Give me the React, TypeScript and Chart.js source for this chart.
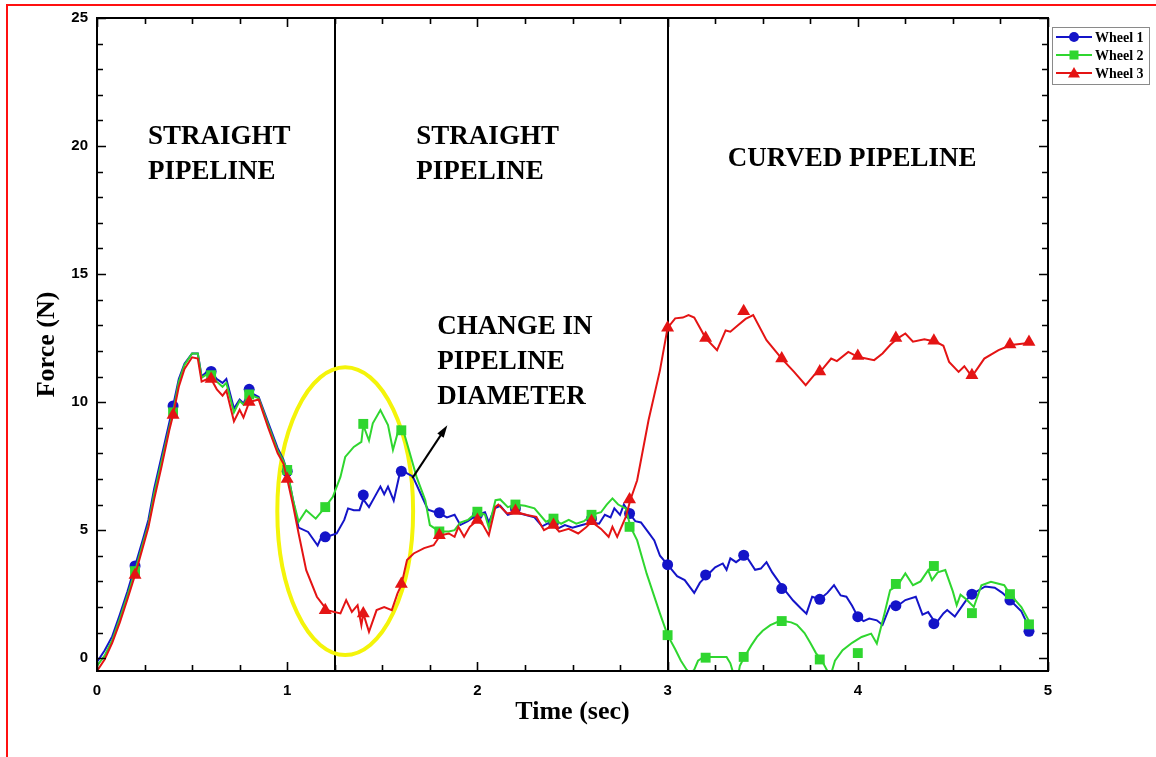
import React, { useEffect, useRef } from 'react';
import { Chart, registerables } from 'chart.js';

Chart.register(...registerables);

// Wheel 1 force trace (time in s, force in N)
const wheel1Time = [
  0.0, 0.04, 0.08, 0.12, 0.16, 0.2, 0.24, 0.27, 0.3, 0.34, 0.38, 0.4, 0.43, 0.46, 0.5, 0.53, 0.55, 0.58, 0.6,
  0.63, 0.66, 0.68, 0.72, 0.75, 0.77, 0.8, 0.85, 0.9, 0.95, 0.98, 1.0, 1.03, 1.06, 1.11, 1.16, 1.18, 1.21, 1.26,
  1.3, 1.32, 1.35, 1.38, 1.4, 1.43, 1.46, 1.49, 1.51, 1.53, 1.56, 1.59, 1.61, 1.66, 1.7, 1.74, 1.8, 1.84, 1.88,
  1.91, 1.95, 2.0, 2.04, 2.06, 2.09, 2.12, 2.16, 2.2, 2.25, 2.3, 2.34, 2.38, 2.42, 2.46, 2.5, 2.55, 2.6, 2.64,
  2.67, 2.7, 2.72, 2.75, 2.77, 2.8, 2.83, 2.86, 2.9, 2.93, 2.96, 3.0, 3.05, 3.09, 3.14, 3.17, 3.21, 3.25, 3.29,
  3.31, 3.33, 3.36, 3.41, 3.46, 3.49, 3.52, 3.55, 3.61, 3.66, 3.7, 3.73, 3.76, 3.8, 3.84, 3.875, 3.91, 3.94,
  3.97, 4.0, 4.03, 4.06, 4.1, 4.13, 4.17, 4.21, 4.25, 4.305, 4.34, 4.37, 4.41, 4.45, 4.47, 4.51, 4.57, 4.6,
  4.67, 4.72, 4.76, 4.8, 4.86, 4.91,
];
const wheel1Force = [
  -0.15, 0.3, 0.85, 1.7, 2.6, 3.6, 4.6, 5.4, 6.6, 7.9, 9.2, 9.85, 10.9, 11.5, 11.9, 11.9, 11.0, 11.2, 11.2,
  10.9, 10.75, 10.9, 9.75, 10.1, 9.95, 10.4, 10.2, 9.2, 8.2, 7.75, 7.3, 6.2, 5.1, 4.93, 4.4, 4.74, 4.74, 4.87,
  5.4, 5.85, 5.78, 5.78, 6.2, 5.9, 6.3, 6.7, 6.4, 6.7, 6.15, 7.15, 7.3, 7.1, 6.45, 5.8, 5.65, 5.5, 5.6,
  5.2, 5.35, 5.6, 5.7, 5.3, 5.85, 5.95, 5.6, 5.7, 5.6, 5.5, 5.15, 5.3, 5.05, 5.2, 5.1, 5.2, 5.3, 5.25,
  5.6, 5.5, 5.85, 5.6, 6.0, 5.65, 5.35, 5.3, 4.9, 4.6, 4.0, 3.65, 3.2, 3.05, 2.55, 2.95, 3.25, 3.55, 3.7,
  3.45, 3.9, 3.75, 4.02, 3.45, 3.5, 3.75, 3.35, 2.72, 2.25, 1.95, 1.74, 2.4, 2.3, 2.55, 2.85, 2.45, 2.4,
  2.05, 1.62, 1.45, 1.55, 1.48, 1.3, 2.05, 2.05, 2.27, 2.4, 1.7, 1.8, 1.35, 1.75, 1.88, 1.63, 2.27, 2.5,
  2.8, 2.75, 2.55, 2.27, 1.83, 1.05,
];

// Wheel 2 force trace
const wheel2Time = [
  0.0, 0.04, 0.08, 0.12, 0.16, 0.2, 0.24, 0.27, 0.3, 0.34, 0.38, 0.4, 0.43, 0.46, 0.5, 0.53, 0.55, 0.58, 0.6,
  0.63, 0.66, 0.68, 0.72, 0.75, 0.77, 0.8, 0.85, 0.9, 0.95, 0.98, 1.0, 1.03, 1.06, 1.1, 1.15, 1.2, 1.24, 1.28,
  1.305, 1.35, 1.39, 1.4, 1.43, 1.45, 1.49, 1.53, 1.556, 1.59, 1.61, 1.64, 1.68, 1.726, 1.75, 1.8, 1.85, 1.88,
  1.91, 1.95, 2.0, 2.04, 2.06, 2.095, 2.12, 2.16, 2.2, 2.25, 2.3, 2.36, 2.4, 2.44, 2.48, 2.52, 2.56, 2.6, 2.65,
  2.68, 2.71, 2.74, 2.78, 2.805, 2.84, 2.89, 2.96, 3.0, 3.04, 3.07, 3.1, 3.12, 3.14, 3.16, 3.19, 3.21, 3.31,
  3.33, 3.35, 3.37, 3.38, 3.4, 3.44, 3.47, 3.5, 3.54, 3.58, 3.61, 3.65, 3.68, 3.72, 3.75, 3.78, 3.81, 3.84,
  3.86, 3.88, 3.92, 3.97, 4.02, 4.07, 4.1, 4.14, 4.17, 4.21, 4.25, 4.29, 4.33, 4.37, 4.39, 4.42, 4.46, 4.5,
  4.52, 4.54, 4.57, 4.61, 4.65, 4.7, 4.77, 4.8, 4.86, 4.91,
];
const wheel2Force = [
  -0.3, 0.1, 0.7, 1.55, 2.45, 3.4, 4.45, 5.2, 6.4, 7.7, 9.0, 9.6, 10.8, 11.45, 11.9, 11.9, 10.95, 11.1, 11.05,
  10.8, 10.6, 10.75, 9.6, 10.05, 9.9, 10.3, 10.15, 9.1, 8.1, 7.7, 7.35, 6.2, 5.33, 5.78, 5.45, 5.9, 6.3, 7.08,
  7.86, 8.25, 8.45, 9.1, 8.5, 9.17, 9.69, 9.1, 8.13, 9.04, 8.9, 8.13, 7.08, 6.17, 5.2, 4.95, 4.95, 5.0,
  5.3, 5.4, 5.72, 5.6, 5.1, 6.17, 6.2, 5.9, 6.0, 5.95, 5.85, 5.33, 5.45, 5.25, 5.4, 5.25, 5.35, 5.6, 5.7,
  6.0, 6.24, 6.0, 5.85, 5.13, 4.6, 3.3, 1.74, 0.9, 0.35, -0.1, -0.45, -0.6, -0.45, -0.1, 0.05, 0.05, 0.05,
  -0.2, -0.7, -0.7, -0.3, 0.0, 0.5, 0.83, 1.07, 1.29, 1.42, 1.45, 1.4, 1.3, 0.98, 0.6, 0.2, -0.08, -0.5,
  -0.6, -0.1, 0.31, 0.6, 0.83, 0.96, 0.57, 1.74, 2.66, 2.85, 3.31, 2.85, 3.0, 3.44, 3.05, 3.35, 3.44, 2.6,
  2.07, 2.48, 2.3, 2.0, 2.85, 2.98, 2.85, 2.5, 2.0, 1.32,
];

// Wheel 3 force trace
const wheel3Time = [
  0.0, 0.04, 0.08, 0.12, 0.16, 0.2, 0.24, 0.27, 0.3, 0.34, 0.38, 0.4, 0.43, 0.46, 0.5, 0.53, 0.55, 0.58, 0.6,
  0.63, 0.66, 0.68, 0.72, 0.75, 0.77, 0.8, 0.85, 0.9, 0.95, 0.98, 1.0, 1.03, 1.06, 1.1, 1.156, 1.21, 1.28,
  1.31, 1.34, 1.37, 1.39, 1.4, 1.43, 1.47, 1.51, 1.55, 1.58, 1.6, 1.63, 1.665, 1.72, 1.77, 1.805, 1.85, 1.88,
  1.9, 1.93, 1.96, 2.0, 2.03, 2.06, 2.095, 2.11, 2.156, 2.2, 2.26, 2.31, 2.35, 2.4, 2.43, 2.48, 2.53, 2.57,
  2.6, 2.65, 2.69, 2.71, 2.735, 2.78, 2.805, 2.84, 2.9, 2.96, 3.0, 3.04, 3.08, 3.11, 3.14, 3.2, 3.26, 3.305,
  3.33, 3.37, 3.41, 3.45, 3.52, 3.6, 3.665, 3.726, 3.77, 3.81, 3.86, 3.89, 3.95, 4.0, 4.086, 4.13, 4.17, 4.21,
  4.25, 4.29, 4.35, 4.41, 4.45, 4.48, 4.53, 4.56, 4.6, 4.665, 4.74, 4.805, 4.91,
];
const wheel3Force = [
  -0.5, -0.05, 0.6, 1.4, 2.3, 3.25, 4.3, 5.1, 6.2, 7.5, 8.9, 9.5, 10.6, 11.3, 11.75, 11.7, 10.8, 10.9, 10.9,
  10.5, 10.25, 10.45, 9.25, 9.7, 9.4, 10.0, 10.1, 9.0, 8.0, 7.6, 7.0, 6.0, 4.87, 3.44, 2.4, 1.87, 1.75,
  2.27, 1.81, 2.07, 1.29, 1.75, 1.03, 1.88, 2.0, 1.88, 2.53, 2.85, 3.83, 4.09, 4.3, 4.41, 4.8, 4.87, 4.74,
  5.13, 4.74, 5.13, 5.39, 5.2, 4.8, 5.91, 6.0, 5.65, 5.72, 5.59, 5.52, 5.0, 5.2, 4.94, 5.05, 4.87, 5.1,
  5.33, 5.05, 4.74, 5.13, 4.74, 5.52, 6.2, 6.95, 9.3, 11.25, 12.9, 13.27, 13.3, 13.4, 13.3, 12.5, 12.03, 12.8,
  12.75, 13.0, 13.25, 13.4, 12.42, 11.7, 11.18, 10.66, 11.05, 11.25, 11.7, 11.6, 11.96, 11.77, 11.64, 11.9, 12.23, 12.49,
  12.68, 12.36, 12.45, 12.36, 12.2, 11.57, 11.18, 11.4, 11.0, 11.7, 12.03, 12.23, 12.32,
];

// Sampled symbol positions shared by the three wheels
const markerTime = [
  0.2, 0.4, 0.6, 0.8, 1.0, 1.2, 1.4, 1.6, 1.8, 2.0, 2.2, 2.4, 2.6, 2.8, 3.0, 3.2, 3.4, 3.6, 3.8, 4.0, 4.2, 4.4,
  4.6, 4.8, 4.9,
];
const wheel1Markers = [
  3.6, 9.85, 11.2, 10.5, 7.3, 4.74, 6.37, 7.3, 5.68, 5.6, 5.85, 5.3, 5.45, 5.65, 3.65, 3.25, 4.02, 2.72, 2.3,
  1.62, 2.05, 1.35, 2.5, 2.27, 1.05,
];
const wheel2Markers = [
  3.4, 9.6, 11.05, 10.3, 7.35, 5.9, 9.15, 8.9, 4.95, 5.72, 6.0, 5.45, 5.6, 5.13, 0.9, 0.02, 0.05, 1.45, -0.05,
  0.2, 2.9, 3.6, 1.76, 2.5, 1.32,
];
const wheel3Markers = [
  3.25, 9.5, 10.9, 10.0, 7.0, 1.87, 1.75, 2.9, 4.8, 5.4, 5.75, 5.2, 5.35, 6.2, 12.9, 12.5, 13.55, 11.7, 11.2,
  11.8, 12.5, 12.4, 11.05, 12.25, 12.35,
];

const seriesNames = ['Wheel 1', 'Wheel 2', 'Wheel 3'];
const seriesColors = ['#1414c8', '#2fd62f', '#e41414'];
const seriesSymbols = ['circle', 'rect', 'triangle'];
const symbolRadius = [5.5, 7, 7.5];

const xTickValues = [0, 1, 2, 3, 4, 5];
const yTickValues = [0, 5, 10, 15, 20, 25];
const sectionBoundaries = [1.25, 3.0];

const regionLabels = [
  { lines: ['STRAIGHT', 'PIPELINE'], t: 0.268, f: 20.08 },
  { lines: ['STRAIGHT', 'PIPELINE'], t: 1.679, f: 20.08 },
  { lines: ['CURVED PIPELINE'], t: 3.316, f: 19.22 },
  { lines: ['CHANGE IN', 'PIPELINE', 'DIAMETER'], t: 1.789, f: 12.66 },
];
// Pointer from the highlighted zone to its caption
const arrowFrom = { t: 1.658, f: 7.03 };
const arrowTo = { t: 1.842, f: 9.1 };
// Highlighted zone around the diameter change
const zoneCenter = { t: 1.305, f: 5.74 };
const zoneRadius = { t: 0.357, f: 5.62 };

const pts = (ts: number[], fs: number[]) => ts.map((t, i) => ({ x: t, y: fs[i] }));

const serif = '"Liberation Serif", "Times New Roman", serif';
const sans = '"Liberation Sans", Arial, sans-serif';

const decorPlugin = {
  id: 'decor',
  beforeDatasetsDraw(chart: any) {
    const { ctx, chartArea: a, scales } = chart;
    const x = scales.x;
    const y = scales.y;
    ctx.save();
    ctx.strokeStyle = '#000';
    ctx.lineWidth = 2;
    sectionBoundaries.forEach((t) => {
      const px = Math.round(x.getPixelForValue(t));
      ctx.beginPath();
      ctx.moveTo(px, a.top);
      ctx.lineTo(px, a.bottom);
      ctx.stroke();
    });
    const cx = x.getPixelForValue(zoneCenter.t);
    const cy = y.getPixelForValue(zoneCenter.f);
    const rx = x.getPixelForValue(zoneCenter.t + zoneRadius.t) - cx;
    const ry = cy - y.getPixelForValue(zoneCenter.f + zoneRadius.f);
    ctx.strokeStyle = '#f4f40a';
    ctx.lineWidth = 4;
    ctx.beginPath();
    ctx.ellipse(cx, cy, rx, ry, 0, 0, Math.PI * 2);
    ctx.stroke();
    ctx.restore();
  },
  afterDatasetsDraw(chart: any) {
    const { ctx, chartArea: a, scales } = chart;
    const x = scales.x;
    const y = scales.y;
    ctx.save();

    // frame
    ctx.strokeStyle = '#000';
    ctx.lineWidth = 2;
    ctx.strokeRect(a.left, a.top, a.right - a.left, a.bottom - a.top);

    // inward ticks on all four sides
    ctx.lineWidth = 1.6;
    ctx.beginPath();
    for (let i = 0; i <= 20; i++) {
      const t = i * 0.25;
      const px = Math.round(x.getPixelForValue(t)) + 0.5;
      const len = i % 4 === 0 ? 9 : 6;
      ctx.moveTo(px, a.bottom);
      ctx.lineTo(px, a.bottom - len);
      ctx.moveTo(px, a.top);
      ctx.lineTo(px, a.top + len);
    }
    for (let v = 0; v <= 25; v++) {
      const py = Math.round(y.getPixelForValue(v)) + 0.5;
      const len = v % 5 === 0 ? 9 : 6;
      ctx.moveTo(a.left, py);
      ctx.lineTo(a.left + len, py);
      ctx.moveTo(a.right, py);
      ctx.lineTo(a.right - len, py);
    }
    ctx.stroke();

    // axis titles
    ctx.fillStyle = '#000';
    ctx.font = `bold 26px ${serif}`;
    ctx.textAlign = 'center';
    ctx.textBaseline = 'middle';
    ctx.fillText('Time (sec)', (a.left + a.right) / 2, 712);
    ctx.save();
    ctx.translate(47, (a.top + a.bottom) / 2);
    ctx.rotate(-Math.PI / 2);
    ctx.fillText('Force (N)', 0, 0);
    ctx.restore();

    // region captions
    ctx.font = `bold 27px ${serif}`;
    ctx.textAlign = 'left';
    ctx.textBaseline = 'alphabetic';
    regionLabels.forEach((lab) => {
      const px = x.getPixelForValue(lab.t);
      const py = y.getPixelForValue(lab.f);
      lab.lines.forEach((ln, i) => ctx.fillText(ln, px, py + i * 35));
    });

    // arrow
    const ax0 = x.getPixelForValue(arrowFrom.t);
    const ay0 = y.getPixelForValue(arrowFrom.f);
    const ax1 = x.getPixelForValue(arrowTo.t);
    const ay1 = y.getPixelForValue(arrowTo.f);
    const ang = Math.atan2(ay1 - ay0, ax1 - ax0);
    ctx.strokeStyle = '#000';
    ctx.lineWidth = 2;
    ctx.beginPath();
    ctx.moveTo(ax0, ay0);
    ctx.lineTo(ax1 - 8 * Math.cos(ang), ay1 - 8 * Math.sin(ang));
    ctx.stroke();
    ctx.beginPath();
    ctx.moveTo(ax1, ay1);
    ctx.lineTo(ax1 - 13 * Math.cos(ang - 0.3), ay1 - 13 * Math.sin(ang - 0.3));
    ctx.lineTo(ax1 - 13 * Math.cos(ang + 0.3), ay1 - 13 * Math.sin(ang + 0.3));
    ctx.closePath();
    ctx.fill();

    // legend
    const lx = 1052;
    const ly = 27;
    ctx.strokeStyle = '#8a8a8a';
    ctx.lineWidth = 1;
    ctx.strokeRect(lx + 0.5, ly + 0.5, 97, 57);
    seriesNames.forEach((name, i) => {
      const cy = ly + 10 + i * 18;
      ctx.strokeStyle = seriesColors[i];
      ctx.fillStyle = seriesColors[i];
      ctx.lineWidth = 2;
      ctx.beginPath();
      ctx.moveTo(lx + 4, cy);
      ctx.lineTo(lx + 40, cy);
      ctx.stroke();
      const mx = lx + 22;
      ctx.beginPath();
      if (seriesSymbols[i] === 'circle') ctx.arc(mx, cy, 5, 0, Math.PI * 2);
      else if (seriesSymbols[i] === 'rect') ctx.rect(mx - 4.5, cy - 4.5, 9, 9);
      else {
        ctx.moveTo(mx, cy - 6);
        ctx.lineTo(mx + 6, cy + 4.5);
        ctx.lineTo(mx - 6, cy + 4.5);
        ctx.closePath();
      }
      ctx.fill();
      ctx.fillStyle = '#000';
      ctx.font = `bold 14px ${serif}`;
      ctx.textAlign = 'left';
      ctx.textBaseline = 'middle';
      ctx.fillText(name, lx + 43, cy + 1);
    });

    // outer red border (top and left edges fall inside the page)
    ctx.strokeStyle = '#ff1010';
    ctx.lineWidth = 2;
    ctx.beginPath();
    ctx.moveTo(7, 757);
    ctx.lineTo(7, 5);
    ctx.lineTo(1156, 5);
    ctx.stroke();
    ctx.restore();
  },
};

export default function App() {
  const ref = useRef<HTMLCanvasElement>(null);

  useEffect(() => {
    document.body.style.margin = '0';
    const canvas = ref.current;
    if (!canvas) return;
    const traces = [
      { t: wheel1Time, f: wheel1Force, m: wheel1Markers },
      { t: wheel2Time, f: wheel2Force, m: wheel2Markers },
      { t: wheel3Time, f: wheel3Force, m: wheel3Markers },
    ];
    const datasets: any[] = [];
    // Wheel 3 first so it sits on top, Wheel 1 at the bottom
    [2, 1, 0].forEach((i) => {
      datasets.push({
        label: seriesNames[i] + ' symbols',
        data: pts(markerTime, traces[i].m),
        showLine: false,
        pointStyle: seriesSymbols[i],
        pointRadius: symbolRadius[i],
        pointBackgroundColor: seriesColors[i],
        pointBorderColor: seriesColors[i],
        pointBorderWidth: 0,
      });
      datasets.push({
        label: seriesNames[i],
        data: pts(traces[i].t, traces[i].f),
        borderColor: seriesColors[i],
        borderWidth: 2,
        pointRadius: 0,
        tension: 0,
        fill: false,
      });
    });

    const fontTicks = { family: sans, weight: 'bold' as const, size: 15 };
    const chart = new Chart(canvas, {
      type: 'line',
      data: { datasets },
      options: {
        responsive: false,
        animation: false,
        events: [],
        layout: { padding: { left: 0, top: 18, right: 108, bottom: 0 } },
        plugins: { legend: { display: false }, tooltip: { enabled: false } },
        scales: {
          x: {
            type: 'linear',
            min: 0,
            max: 5,
            grid: { display: false, drawTicks: false },
            border: { display: false },
            afterBuildTicks: (s: any) => {
              s.ticks = xTickValues.map((v) => ({ value: v }));
            },
            afterFit: (s: any) => {
              s.height = 86;
            },
            ticks: { font: fontTicks, color: '#000', padding: 11, maxRotation: 0 },
          },
          y: {
            type: 'linear',
            min: -0.5,
            max: 25,
            grid: { display: false, drawTicks: false },
            border: { display: false },
            afterBuildTicks: (s: any) => {
              s.ticks = yTickValues.map((v) => ({ value: v }));
            },
            afterFit: (s: any) => {
              s.width = 97;
            },
            ticks: { font: fontTicks, color: '#000', padding: 9 },
          },
        },
      },
      plugins: [decorPlugin],
    });
    return () => chart.destroy();
  }, []);

  return (
    <div style={{ position: 'relative', width: 1156, height: 757, background: '#fff' }}>
      <canvas ref={ref} width={1156} height={757} style={{ display: 'block' }} />
    </div>
  );
}
